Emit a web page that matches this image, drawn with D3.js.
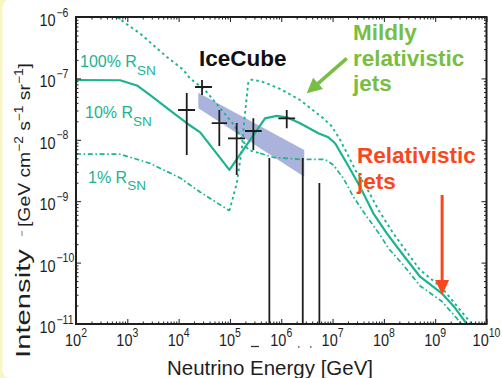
<!DOCTYPE html>
<html>
<head>
<meta charset="utf-8">
<script src="https://cdn.jsdelivr.net/npm/d3@7"></script>
<style>
  html, body { margin: 0; padding: 0; background: #fff; }
  svg { display: block; }
  text { font-family: "Liberation Sans", Arial, Helvetica, sans-serif; }
</style>
</head>
<body>
<svg id="chart" width="502" height="378"></svg>
<script>
// ---- data (log10 of neutrino energy [GeV], log10 of intensity) ----

// 10% R_SN model (solid)
const r10LogE = [2, 2.86, 3.2, 3.44, 3.8, 4.16, 4.42, 4.99, 5.684, 5.912, 6.107, 6.366, 6.723, 6.918, 7.049, 7.277, 7.536, 7.795, 8.057, 8.38, 8.706, 9.129, 9.36, 9.616];
const r10LogI = [-7.026, -7.03, -7.12, -7.27, -7.5, -7.73, -7.88, -8.49, -7.65, -7.61, -7.634, -7.731, -7.894, -7.959, -8.057, -8.383, -8.764, -9.197, -9.523, -9.88, -10.23, -10.5, -10.71, -11.0];

// 100% R_SN model (dotted at low energy, dash-dot beyond the break)
const r100LogE = [2.793, 3.25, 3.77, 4.09, 4.222, 4.515, 5.066, 5.359, 5.587, 5.84, 6.366, 6.854, 7.016, 7.211, 7.405, 7.667, 7.926, 8.088, 8.38, 8.706, 9.129, 9.519];
const r100LogI = [-6.0, -6.27, -6.65, -6.86, -7.0, -7.19, -7.743, -8.166, -8.22, -8.285, -8.318, -8.318, -8.41, -8.627, -8.927, -9.252, -9.55, -9.767, -10.04, -10.38, -10.63, -11.0];
const r100BreakE = 5.587;

// 1% R_SN model (dash-dot at low energy, dotted beyond the dip)
const r1LogE = [2, 2.86, 3.442, 4.027, 4.417, 4.99, 5.132, 5.23, 5.294, 5.359, 5.425, 5.62, 5.977, 6.366, 6.82, 6.984, 7.146, 7.3, 7.45, 7.65, 7.9, 8.18, 8.45, 8.706, 9.129, 9.713];
const r1LogI = [-8.231, -8.235, -8.383, -8.62, -8.85, -9.155, -8.71, -8.166, -7.568, -7.054, -7.02, -7.05, -7.17, -7.352, -7.65, -7.78, -8.0, -8.25, -8.5, -8.76, -9.15, -9.52, -9.83, -10.12, -10.41, -11.0];
const r1BreakE = 4.99;

// IceCube points with error bars
const iceLogE   = [4.158, 4.456, 4.793, 5.132, 5.456, 6.107];
const iceLogELo = [3.99, 4.32, 4.645, 4.963, 5.294, 5.944];
const iceLogEHi = [4.32, 4.65, 4.944, 5.294, 5.62, 6.27];
const iceLogI   = [-7.515, -7.14, -7.73, -7.976, -7.857, -7.65];
const iceLogILo = [-8.248, -7.27, -8.10, -8.573, -8.166, -7.81];
const iceLogIHi = [-7.238, -7.026, -7.515, -7.726, -7.65, -7.515];

// IceCube upper limits
const ulLogE = [5.768, 6.419, 6.743];
const ulLogI = [-8.296, -8.296, -8.704];

// IceCube power-law band
const bandLogE   = [4.384, 6.448];
const bandLogTop = [-7.233, -8.166];
const bandLogBot = [-7.487, -8.601];

// axis tick exponents
const xTickExp = [2, 3, 4, 5, 6, 7, 8, 9, 10];
const yTickExp = [-11, -10, -9, -8, -7, -6];

// annotation arrows (log10 E, log10 I)
const mildArrow = { from: [7.277, -6.673], to: [6.497, -7.243] };
const relArrow  = { from: [9.135, -8.899], to: [9.135, -10.528] };

// ---- drawing ----
const P = v => Math.pow(10, v);
const teal = "#1cb391";
const ink = "#1e1e1e";
const svg = d3.select("#chart");

const L = 76, R = 486.5, T = 17, B = 324;
const x = d3.scaleLog().domain([1e2, 1e10]).range([L, R]);
const y = d3.scaleLog().domain([1e-11, 1e-6]).range([B, T]);

// page frame
svg.append("rect").attr("width", 502).attr("height", 378).attr("fill", "#faf6c4");
svg.append("rect").attr("x", 2.5).attr("y", -0.5).attr("width", 620).attr("height", 378.5)
  .attr("rx", 8).attr("fill", "#fff");

svg.append("clipPath").attr("id", "plotClip").append("rect")
  .attr("x", L).attr("y", T).attr("width", R - L).attr("height", B - T);
const plot = svg.append("g").attr("clip-path", "url(#plotClip)");

// band
const bandPts = [
  [x(P(bandLogE[0])), y(P(bandLogTop[0]))],
  [x(P(bandLogE[1])), y(P(bandLogTop[1]))],
  [x(P(bandLogE[1])), y(P(bandLogBot[1]))],
  [x(P(bandLogE[0])), y(P(bandLogBot[0]))]
];
plot.append("polygon").attr("points", bandPts.map(p => p.join(",")).join(" "))
  .attr("fill", "#a9b3db");

// model curves
const zip = (es, is) => es.map((e, i) => [e, is[i]]);
const seg = (pts, lo, hi) => pts.filter(p => p[0] >= lo && p[0] <= hi);
const line = d3.line().x(d => x(P(d[0]))).y(d => y(P(d[1])));
const dotted = "2.6,3.2";
const dashDot = "5,2.6,1.6,2.6";

function curve(pts, dash, width) {
  plot.append("path").datum(pts).attr("d", line)
    .attr("fill", "none").attr("stroke", teal).attr("stroke-width", width)
    .attr("stroke-dasharray", dash).attr("stroke-linejoin", "round");
}
const r1 = zip(r1LogE, r1LogI);
const r100 = zip(r100LogE, r100LogI);
curve(seg(r1, -Infinity, r1BreakE), dashDot, 1.7);
curve(seg(r1, r1BreakE, Infinity), dotted, 1.9);
curve(seg(r100, -Infinity, r100BreakE), dotted, 1.9);
curve(seg(r100, r100BreakE, Infinity), dashDot, 1.7);
curve(zip(r10LogE, r10LogI), null, 2.2);

// IceCube crosses
iceLogE.forEach((e, i) => {
  plot.append("line")
    .attr("x1", x(P(e))).attr("x2", x(P(e)))
    .attr("y1", y(P(iceLogIHi[i]))).attr("y2", y(P(iceLogILo[i])))
    .attr("stroke", ink).attr("stroke-width", 1.8);
  plot.append("line")
    .attr("x1", x(P(iceLogELo[i]))).attr("x2", x(P(iceLogEHi[i])))
    .attr("y1", y(P(iceLogI[i]))).attr("y2", y(P(iceLogI[i])))
    .attr("stroke", ink).attr("stroke-width", 1.8);
});
ulLogE.forEach((e, i) => {
  plot.append("line")
    .attr("x1", x(P(e))).attr("x2", x(P(e)))
    .attr("y1", y(P(ulLogI[i]))).attr("y2", y(1e-11))
    .attr("stroke", ink).attr("stroke-width", 1.8);
});

// axes (inward ticks on all four sides)
const majX = xTickExp.map(P);
const majY = yTickExp.map(P);
const minX = [], minY = [];
for (let p = 2; p < 10; p++) for (let k = 2; k <= 9; k++) minX.push(k * P(p));
for (let p = -11; p < -6; p++) for (let k = 2; k <= 9; k++) minY.push(k * P(p));

function ticks(axisFn, scale, vals, size, tx, ty) {
  const g = svg.append("g").attr("transform", `translate(${tx},${ty})`)
    .call(axisFn(scale).tickValues(vals).tickSizeInner(-size).tickSizeOuter(0).tickFormat(() => ""));
  g.select(".domain").remove();
  g.selectAll(".tick line").attr("stroke", ink).attr("stroke-width", 1);
}
ticks(d3.axisBottom, x, majX, 5, 0, B);
ticks(d3.axisBottom, x, minX, 2.5, 0, B);
ticks(d3.axisTop, x, majX, 5, 0, T);
ticks(d3.axisTop, x, minX, 2.5, 0, T);
ticks(d3.axisLeft, y, majY, 5, L, 0);
ticks(d3.axisLeft, y, minY, 2.5, L, 0);
ticks(d3.axisRight, y, majY, 5, R, 0);
ticks(d3.axisRight, y, minY, 2.5, R, 0);

svg.append("rect").attr("x", L).attr("y", T).attr("width", R - L).attr("height", B - T)
  .attr("fill", "none").attr("stroke", ink).attr("stroke-width", 2);

// tick labels
xTickExp.forEach(e => {
  const g = svg.append("g").attr("transform", `translate(${x(P(e))},346) scale(1,1.15)`);
  const t = g.append("text").attr("text-anchor", "middle").attr("font-size", 14.5).attr("fill", ink);
  t.append("tspan").text("10");
  t.append("tspan").attr("dy", -7.5).attr("font-size", 10.5).text(e);
});
yTickExp.forEach(e => {
  const g = svg.append("g").attr("transform", `translate(55.5,${y(P(e)) + 9}) scale(1,1.15)`);
  g.append("text").attr("text-anchor", "end").attr("font-size", 14.5).attr("fill", ink).text("10");
  g.append("text").attr("x", 1).attr("y", -8.2).attr("font-size", 10.5).attr("fill", ink)
    .text("\u2212" + Math.abs(e));
});

// axis titles
svg.append("text").attr("x", 270).attr("y", 375).attr("text-anchor", "middle")
  .attr("font-size", 21).attr("fill", ink)
  .attr("textLength", 206).attr("lengthAdjust", "spacingAndGlyphs")
  .text("Neutrino Energy [GeV]");

svg.append("g").attr("transform", "translate(30,358) rotate(-90)")
  .append("text").attr("font-size", 21).attr("fill", ink)
  .attr("textLength", 109).attr("lengthAdjust", "spacingAndGlyphs")
  .text("Intensity");
svg.append("line").attr("x1", 22).attr("x2", 22).attr("y1", 231).attr("y2", 236)
  .attr("stroke", "#aaa").attr("stroke-width", 1.5);

const unitG = svg.append("g").attr("transform", "translate(29.5,227) rotate(-90)");
const unitInner = unitG.append("g");
const unit = unitInner.append("text").attr("font-size", 17).attr("fill", ink);
[["[GeV cm", 0], ["\u22122", 1], [" s", 0], ["\u22121", 1], [" sr", 0], ["\u22121", 1], ["]", 0]]
  .forEach(([s, sup], i, arr) => {
    const prevSup = i > 0 ? arr[i - 1][1] : 0;
    const dy = sup && !prevSup ? -7 : (!sup && prevSup ? 7 : 0);
    unit.append("tspan").attr("dy", dy).attr("font-size", sup ? 12 : 17).text(s);
  });
const unitLen = unit.node().getComputedTextLength();
unitInner.attr("transform", `scale(${164 / unitLen},1)`);

// small stray marks below the x axis
svg.append("line").attr("x1", 251).attr("x2", 259).attr("y1", 346.5).attr("y2", 346.5)
  .attr("stroke", "#333").attr("stroke-width", 1.3);
[298, 310].forEach(px => svg.append("line").attr("x1", px).attr("x2", px + 1.5)
  .attr("y1", 347).attr("y2", 347).attr("stroke", "#555").attr("stroke-width", 1.5));

// curve labels
function rsn(xp, yp, pct) {
  const t = svg.append("text").attr("x", xp).attr("y", yp).attr("font-size", 16).attr("fill", teal);
  t.append("tspan").text(pct + " R");
  t.append("tspan").attr("dy", 7.5).attr("font-size", 13.5).text("SN");
}
rsn(80, 67, "100%");
rsn(85, 118, "10%");
rsn(88, 182.5, "1%");

svg.append("text").attr("x", 199).attr("y", 66).attr("font-size", 22.5).attr("font-weight", "bold")
  .attr("fill", "#111").text("IceCube");

const green = "#78be43";
["Mildly", "relativistic", "jets"].forEach((s, i) => {
  svg.append("text").attr("x", 353).attr("y", 40 + i * 25.5).attr("font-size", 22.5)
    .attr("font-weight", "bold").attr("fill", green).text(s);
});
const red = "#f9461c";
["Relativistic", "jets"].forEach((s, i) => {
  svg.append("text").attr("x", 357).attr("y", 162.5 + i * 26).attr("font-size", 22.5)
    .attr("font-weight", "bold").attr("fill", red).text(s);
});

// arrows
function arrow(a, color, width, headLen, headHalf) {
  const x1 = x(P(a.from[0])), y1 = y(P(a.from[1]));
  const x2 = x(P(a.to[0])), y2 = y(P(a.to[1]));
  const dx = x2 - x1, dy = y2 - y1, len = Math.hypot(dx, dy);
  const ux = dx / len, uy = dy / len;
  const bx = x2 - ux * headLen, by = y2 - uy * headLen;
  svg.append("line").attr("x1", x1).attr("y1", y1).attr("x2", bx + ux * 1).attr("y2", by + uy * 1)
    .attr("stroke", color).attr("stroke-width", width);
  svg.append("polygon")
    .attr("points", [[x2, y2], [bx - uy * headHalf, by + ux * headHalf], [bx + uy * headHalf, by - ux * headHalf]]
      .map(p => p.join(",")).join(" "))
    .attr("fill", color);
}
arrow(mildArrow, green, 3.5, 15, 7.5);
arrow(relArrow, red, 3, 15, 7);
</script>
</body>
</html>
